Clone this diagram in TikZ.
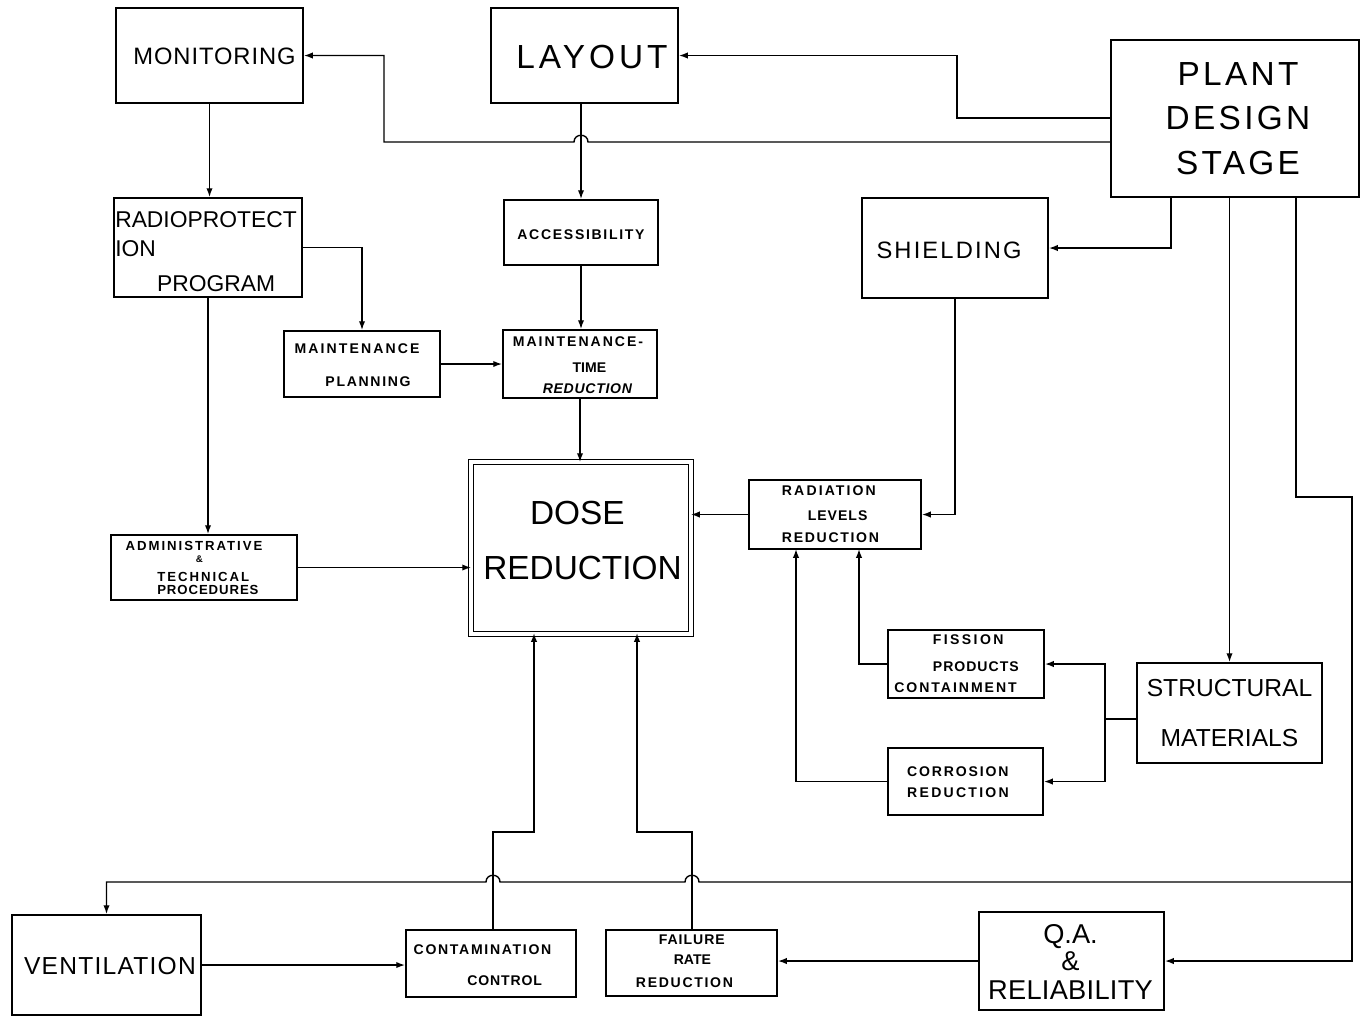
\documentclass[tikz,border=0pt]{standalone}
\usepackage{fontspec}
\setmainfont{Liberation Sans}
\newfontfamily\tinyfont[LetterSpace=12]{Liberation Sans}
\usepackage{tikz}
\usetikzlibrary{arrows.meta,fit}
\newcommand{\pixelsize}{0.02cm}
\newcommand{\spaced}[2]{{\addfontfeature{LetterSpace=#1}#2}}
\newcommand{\makeblock}[7]{
	\node[block, fit={(#2,#3) (#4,#5)}] (#1) {};
	\node[#6] (#1-text) at (#1.center) {#7};
}
\tikzset{
	block/.style={draw, line width=1.1pt, inner sep=0pt},
	wire/.style={line width=0.8pt},
	link/.style={wire, -{Latex[length=5pt,width=3.6pt]}},
	title/.style={inner sep=0pt, align=center, font=\fontsize{19}{25.5}\selectfont},
	heading/.style={inner sep=0pt, align=center, font=\fontsize{14}{17}\selectfont},
	caption/.style={inner sep=0pt, align=left, font=\tinyfont\bfseries\fontsize{8}{11}\selectfont},
}

\begin{document}
\begin{tikzpicture}[x=\pixelsize,y=-\pixelsize]
	\useasboundingbox (0,0) rectangle (1362,1019);

	\makeblock{mon}{116}{8}{303}{103}{heading, font=\fontsize{13.5}{16}\selectfont, shift={(5,1)}}{\spaced{4}{MONITORING}}
	\makeblock{layout}{491}{8}{678}{103}{title, shift={(7.5,1.5)}}{\spaced{12}{LAYOUT}}
	\makeblock{plant}{1111}{40}{1359}{197}{title, font=\fontsize{19}{25.5}\selectfont\addfontfeature{LetterSpace=10}, shift={(3,0)}}{PLANT\\DESIGN\\STAGE}
	\makeblock{rp}{114}{198}{302}{297}{heading, align=left, font=\fontsize{13}{16.5}\selectfont, shift={(-2,4)}}{RADIOPROTECT\\ION\\[3.3pt]\hspace*{23.8pt}PROGRAM}
	\makeblock{access}{504}{200}{658}{265}{caption, shift={(0,2)}}{ACCESSIBILITY}
	\makeblock{shield}{862}{198}{1048}{298}{heading, font=\fontsize{13.5}{16}\selectfont\addfontfeature{LetterSpace=9}, shift={(-6,2.5)}}{SHIELDING}
	\makeblock{mplan}{284}{331}{440}{397}{caption, shift={(-5,1)}}{\spaced{15}{MAINTENANCE}\\[7.7pt]\hspace*{17.6pt}PLANNING}
	\makeblock{mtime}{503}{330}{657}{398}{caption, shift={(-2,1.5)}}{\spaced{14}{MAINTENANCE-}\\[3.7pt]\hspace*{34pt}\spaced{0}{TIME}\\[0.9pt]\hspace*{17pt}\textit{\spaced{5}{REDUCTION}}}
	\makeblock{dose}{472}{463}{690}{633}{title, align=left, font=\fontsize{19}{31.8}\selectfont, shift={(1.5,-7.5)}}{\hspace*{26.6pt}DOSE\\REDUCTION}
	\makeblock{rad}{749}{480}{921}{549}{caption, shift={(-4.5,0)}}{\spaced{15}{RADIATION}\\[3.2pt]\hspace*{14.7pt}\spaced{7}{LEVELS}\\[1.5pt]REDUCTION}
	\makeblock{admin}{111}{535}{297}{600}{caption, font=\tinyfont\bfseries\fontsize{7.5}{6.8}\selectfont, shift={(-10,0.5)}}{\spaced{15}{ADMINISTRATIVE}\\\hspace*{40pt}{\fontsize{5.5}{6}\selectfont\&}\\[4pt]\hspace*{18pt}\spaced{15}{TECHNICAL}\\[1.1pt]\hspace*{18pt}\spaced{7}{PROCEDURES}}
	\makeblock{fiss}{888}{630}{1044}{698}{caption, shift={(-9.5,0)}}{\hspace*{22pt}\spaced{17}{FISSION}\\[4.3pt]\hspace*{22pt}\spaced{7}{PRODUCTS}\\[0.9pt]\spaced{14}{CONTAINMENT}}
	\makeblock{struct}{1137}{663}{1322}{763}{heading, font=\fontsize{14}{28.4}\selectfont}{STRUCTURAL\\MATERIALS}
	\makeblock{corr}{888}{748}{1043}{815}{caption, shift={(-7.5,1)}}{\spaced{13}{CORROSION}\\[1pt]\spaced{16}{REDUCTION}}
	\makeblock{vent}{12}{915}{201}{1015}{heading, font=\fontsize{14}{17}\selectfont\addfontfeature{LetterSpace=5}, shift={(3.5,1)}}{VENTILATION}
	\makeblock{contam}{406}{930}{576}{997}{caption, shift={(-8.5,1.5)}}{CONTAMINATION\\[7pt]\hspace*{30.6pt}\spaced{6}{CONTROL}}
	\makeblock{fail}{606}{930}{777}{996}{caption, shift={(-7,-1.5)}}{\hspace*{13pt}\spaced{7}{FAILURE}\\\hspace*{21.5pt}\spaced{0}{RATE}\\[2.6pt]REDUCTION}
	\makeblock{qa}{979}{912}{1164}{1010}{heading, font=\fontsize{15.5}{15.3}\selectfont, shift={(-1,1)}}{Q.A.\\\&\\[1.7pt]\spaced{1}{RELIABILITY}}
	\draw[line width=0.8pt, double, double distance=1.8pt] (dose.north west) rectangle (dose.south east);

	\coordinate (bendL) at (957,118);
	\coordinate (bendM) at (384,142);
	\coordinate (hopA) at (588,142);
	\coordinate (hopB) at (574,142);
	\coordinate (bendS) at (1171,248);
	\coordinate (bendQ1) at (1296,497);
	\coordinate (bendQ2) at (1352,497);
	\coordinate (split) at (1352,882);
	\coordinate (hopC) at (699,882);
	\coordinate (hopD) at (685,882);
	\coordinate (hopE) at (500,882);
	\coordinate (hopF) at (486,882);
	\coordinate (radF) at (859,549);
	\coordinate (radC) at (796,549);
	\coordinate (bendSM) at (1105,719);
	\coordinate (stepC) at (493,832);
	\coordinate (doseC) at (534,633);
	\coordinate (stepF) at (692,832);
	\coordinate (doseF) at (637,633);

	\draw[link] (plant.west |- bendL) -- (bendL) |- (layout.east);
	\draw[link] (plant.west |- bendM) -- (hopA) .. controls +(0,-9) and +(0,-9) .. (hopB) -- (bendM) |- (mon.east);
	\draw[link] (access.north |- layout.south) -- (access.north);
	\draw[link] (mon.south) -- (mon.south |- rp.north);
	\draw[link] (rp.east) -| (mplan.north);
	\draw[link] (access.south) -- (access.south |- mtime.north);
	\draw[link] (mplan.east) -- (mplan.east -| mtime.west);
	\draw[link] (mtime.south) -- (mtime.south |- dose.north);
	\draw[link] (rp.south) -- (rp.south |- admin.north);
	\draw[link] (admin.east) -- (admin.east -| dose.west);
	\draw[link] (rad.west) -- (rad.west -| dose.east);
	\draw[link] (shield.south) |- (rad.east);
	\draw[link] (plant.south -| bendS) |- (shield.east);
	\draw[link] (plant.south -| struct.north) -- (struct.north);
	\draw[link] (plant.south -| bendQ1) -- (bendQ1) -- (bendQ2) |- (qa.east);
	\draw[link] (split) -- (hopC) .. controls +(0,-9) and +(0,-9) .. (hopD) -- (hopE) .. controls +(0,-9) and +(0,-9) .. (hopF) -- (vent.north |- split) -- (vent.north);
	\draw[link] (fiss.west) -| (radF);
	\draw[link] (corr.west) -| (radC);
	\draw[wire] (struct.west |- bendSM) -- (bendSM);
	\draw[link] (bendSM) |- (fiss.east);
	\draw[link] (bendSM) |- (corr.east);
	\draw[link] (vent.east) -- (vent.east -| contam.west);
	\draw[link] (qa.west) -- (qa.west -| fail.east);
	\draw[link] (contam.north -| stepC) -- (stepC) -| (doseC);
	\draw[link] (fail.north -| stepF) -- (stepF) -| (doseF);
\end{tikzpicture}
\end{document}
